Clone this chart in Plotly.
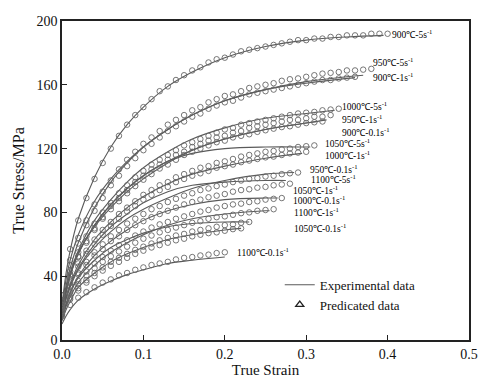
import plotly.graph_objects as go

# ---------------- data ----------------
conditions = ["900℃-5s<sup>-1</sup>", "950℃-5s<sup>-1</sup>", "900℃-1s<sup>-1</sup>",
              "1000℃-5s<sup>-1</sup>", "950℃-1s<sup>-1</sup>", "900℃-0.1s<sup>-1</sup>",
              "1050℃-5s<sup>-1</sup>", "1000℃-1s<sup>-1</sup>", "950℃-0.1s<sup>-1</sup>",
              "1100℃-5s<sup>-1</sup>", "1050℃-1s<sup>-1</sup>", "1000℃-0.1s<sup>-1</sup>",
              "1100℃-1s<sup>-1</sup>", "1050℃-0.1s<sup>-1</sup>", "1100℃-0.1s<sup>-1</sup>"]

# predicted stress (MPa), sampled every 0.01 strain starting at 0
pred_strain_step = 0.01
pred_900_5 = [28, 57, 75, 89, 101, 111, 120, 128, 135, 141, 146, 151, 156, 159, 163, 166, 169, 171, 174, 176,
              177, 179, 181, 182, 183, 184, 185, 186, 187, 188, 188, 189, 189, 190, 190, 191, 191, 191, 192, 192, 192]
pred_950_5 = [28, 50, 64, 75, 85, 93, 100, 107, 113, 118, 123, 127, 131, 135, 138, 141, 144, 146, 149, 151,
              153, 154, 156, 158, 159, 160, 161, 162.5, 163.5, 164, 165, 166, 167, 167.5, 168, 169, 169, 169.5, 170]
pred_900_1 = [25, 47, 60.5, 72, 81, 89, 97, 103, 109, 114, 119, 123, 127, 131, 134, 137, 140, 142, 145, 147,
              149, 150, 152, 154, 155, 156, 157, 158, 159, 160, 161, 162, 163, 163, 164, 164.5, 165]
pred_1000_5 = [24, 43, 55, 65, 73, 80, 86, 92, 97, 102, 106, 110, 113, 116, 119, 122, 124, 126, 128, 130,
               132, 133, 135, 136, 137, 138, 139, 140, 141, 142, 142.5, 143, 144, 144.5, 145]
pred_950_1 = [22, 41, 52.5, 62, 70, 77, 84, 89, 94, 99, 103, 107, 110, 113, 116, 118, 121, 123, 125, 127,
              128, 130, 131, 133, 134, 135, 136, 137, 138, 138, 139, 140, 140, 141]
pred_900_01 = [22, 40, 52, 61, 69, 76, 82, 87, 92, 96.5, 100.5, 104, 107.5, 110, 113, 116, 118, 120, 122, 124,
               125, 127, 128, 129, 130.5, 131.5, 132.5, 133.5, 134, 135, 136, 136.5, 137]
pred_1050_5 = [22, 38, 48, 56, 63, 69, 74, 79, 83, 87, 91, 94, 97, 99, 102, 104, 106, 108, 109, 111,
               112, 113.5, 115, 116, 117, 118, 118.5, 119.5, 120, 121, 121.5, 122]
pred_1000_1 = [20, 36, 46, 54, 60, 66, 71.5, 76, 80.5, 84, 88, 91, 94, 96, 99, 101, 103, 104.5, 106, 108,
               109, 110, 111.5, 112.5, 113.5, 114.5, 115, 116, 117, 117.5, 118]
pred_950_01 = [20, 34, 42, 49, 55, 60, 65, 69, 73, 76, 79, 82, 84, 86.5, 88.5, 90.5, 92, 94, 95, 96.5,
               97.5, 99, 100, 101, 101.5, 102.5, 103, 104, 104.5, 105]
pred_1100_5 = [20, 33, 41, 47, 53, 57, 62, 65, 69, 72, 74.5, 77, 79, 81, 83, 85, 86.5, 88, 89.5, 90.5,
               91.5, 93, 94, 94.5, 95.5, 96, 97, 97.5, 98]
pred_1050_1 = [18, 30, 37, 43, 48, 52, 56, 59.5, 62.5, 65.5, 68, 70.5, 72.5, 74, 76, 77.5, 79, 80.5, 81.5, 83,
               84, 85, 85.5, 86.5, 87, 88, 88.5, 89]
pred_1000_01 = [18, 28.5, 35, 40.5, 45, 49, 52.5, 55.5, 58.5, 61, 63.5, 65.5, 67.5, 69, 70.5, 72, 73.5, 74.5, 76, 77,
                77.5, 78.5, 79.5, 80, 81, 81.5, 82]
pred_1100_1 = [17, 26.5, 32.5, 37.5, 42, 45.5, 49, 51.5, 54, 56.5, 58.5, 60.5, 62.5, 64, 65.5, 66.5, 68, 69, 70, 71,
               72, 72.5, 73.5, 74]
pred_1050_01 = [16, 25.5, 31, 36, 40, 43.5, 46.5, 49, 51.5, 54, 56, 58, 59.5, 61, 62.5, 63.5, 65, 66, 67, 67.5,
                68.5, 69.5, 70]
pred_1100_01 = [15, 22, 26.5, 30, 33, 36, 38, 40.5, 42, 44, 45.5, 47, 48, 49, 50.5, 51.5, 52, 53, 53.5, 54.5, 55]

# experimental stress (MPa) at these strains, last point at each curve's end strain
exp_strain = [0, 0.005, 0.01, 0.02, 0.04, 0.06, 0.08, 0.10, 0.13, 0.16, 0.20, 0.25, 0.30, 0.35, 0.40]
exp_end = [0.395, 0.37, 0.36, 0.335, 0.325, 0.315, 0.305, 0.295, 0.285, 0.275, 0.265, 0.255, 0.23, 0.22, 0.20]
exp_900_5 = [22, 42, 56, 76, 102, 121, 135, 146, 159, 168, 177, 184, 188, 190, 191]
exp_950_5 = [20, 38, 50, 66, 87, 101, 112, 121, 132, 141, 150, 157, 162, 165, 166]
exp_900_1 = [18, 34, 45, 61, 83, 99, 111, 121, 132, 141, 150, 157, 161, 164, 164.5]
exp_1000_5 = [18, 32, 42, 56, 75, 88, 99, 108, 118, 126, 133, 139, 142, 144]
exp_950_1 = [17, 30, 40, 54, 72, 85, 95, 103, 112, 119, 126, 132, 136, 138]
exp_900_01 = [16, 30, 41, 55, 71, 83, 93, 101, 111, 119, 126, 132, 136, 137]
exp_1050_5 = [16, 30, 40, 54, 72, 85, 95, 103, 112, 117, 120, 121, 121, 121]
exp_1000_1 = [15, 27, 35, 47, 63, 74, 83, 90, 98, 104, 109, 114, 117]
exp_950_01 = [15, 26, 33, 44, 58, 68, 76, 82, 89, 95, 100, 104, 105]
exp_1100_5 = [15, 26, 34, 45, 60, 71, 79, 86, 93, 97, 99, 100, 100]
exp_1050_1 = [14, 23, 30, 40, 53, 62, 69, 75, 81, 85, 88, 89, 89]
exp_1000_01 = [13, 21, 27, 36, 47, 55, 61, 66, 72, 76, 79, 81, 81]
exp_1100_1 = [13, 22, 29, 39, 50, 58, 63, 67, 71, 73, 74, 74]
exp_1050_01 = [12, 19, 24, 33, 42, 49, 54, 58, 63, 66, 69, 70]
exp_1100_01 = [10, 15, 19, 25, 32, 37, 41, 44, 48, 50, 52]

pred_all = [pred_900_5, pred_950_5, pred_900_1, pred_1000_5, pred_950_1, pred_900_01, pred_1050_5,
            pred_1000_1, pred_950_01, pred_1100_5, pred_1050_1, pred_1000_01, pred_1100_1, pred_1050_01,
            pred_1100_01]
exp_all = [exp_900_5, exp_950_5, exp_900_1, exp_1000_5, exp_950_1, exp_900_01, exp_1050_5, exp_1000_1,
           exp_950_01, exp_1100_5, exp_1050_1, exp_1000_01, exp_1100_1, exp_1050_01, exp_1100_01]

x_ticks = [0.0, 0.1, 0.2, 0.3, 0.4, 0.5]
y_ticks = [0, 40, 80, 120, 160, 200]

# label anchor positions (strain, stress) in data coordinates
label_pos = [(0.403, 192), (0.379, 174), (0.379, 165), (0.342, 146.5), (0.342, 138.5), (0.342, 130.5),
             (0.321, 123.5), (0.321, 116), (0.302, 107.5), (0.303, 101), (0.281, 94), (0.281, 87.5),
             (0.282, 80), (0.282, 70.5), (0.212, 55)]

# ---------------- figure ----------------
FONT = "Liberation Serif"
LINE_COLOR = "#5a5a5a"
MARK_COLOR = "#666666"

fig = go.Figure()
for i, (vals, ev, end) in enumerate(zip(pred_all, exp_all, exp_end)):
    ex = [s for s in exp_strain if s < end] + [end]
    fig.add_trace(go.Scatter(
        x=ex, y=ev, mode="lines", line=dict(color=LINE_COLOR, width=1.1, shape="spline", smoothing=1.0),
        name="Experimental data", showlegend=(i == 0), legendrank=1, hoverinfo="skip"))
for i, vals in enumerate(pred_all):
    px = [k * pred_strain_step for k in range(len(vals))]
    fig.add_trace(go.Scatter(
        x=px, y=vals, mode="markers",
        marker=dict(symbol="circle-open", size=5.5, color=MARK_COLOR, line=dict(width=0.9)),
        showlegend=False, hoverinfo="skip"))
fig.add_trace(go.Scatter(
    x=[None], y=[None], mode="markers", name="Predicated data", legendrank=2,
    marker=dict(symbol="triangle-up-open", size=7, color="#222", line=dict(width=1.3))))

for txt, (lx, ly) in zip(conditions, label_pos):
    fig.add_annotation(x=lx, y=ly, text=txt, showarrow=False, xanchor="left", yanchor="middle",
                       font=dict(family=FONT, size=9.5, color="#000"))

axis_common = dict(showgrid=False, zeroline=False, showline=True, linecolor="#222", linewidth=1.5,
                   mirror=True, ticks="inside", ticklen=5, tickwidth=1.2, tickcolor="#222",
                   tickfont=dict(family=FONT, size=14, color="#111"))
fig.update_xaxes(range=[0, 0.5], tickvals=x_ticks, ticktext=[f"{v:.1f}" for v in x_ticks],
                 title=dict(text="True Strain", font=dict(family=FONT, size=15, color="#111"), standoff=1),
                 **axis_common)
fig.update_yaxes(range=[0, 200], tickvals=y_ticks,
                 title=dict(text="True Stress/MPa", font=dict(family=FONT, size=16, color="#111"), standoff=8),
                 **axis_common)

fig.update_layout(
    width=485, height=381, margin=dict(l=62, r=7, t=21, b=41),
    plot_bgcolor="white", paper_bgcolor="white",
    legend=dict(x=0.535, y=0.22, xanchor="left", yanchor="top", bgcolor="rgba(0,0,0,0)",
                font=dict(family=FONT, size=13, color="#111"), tracegroupgap=2, itemwidth=30),
)

fig.write_html("out.html")
